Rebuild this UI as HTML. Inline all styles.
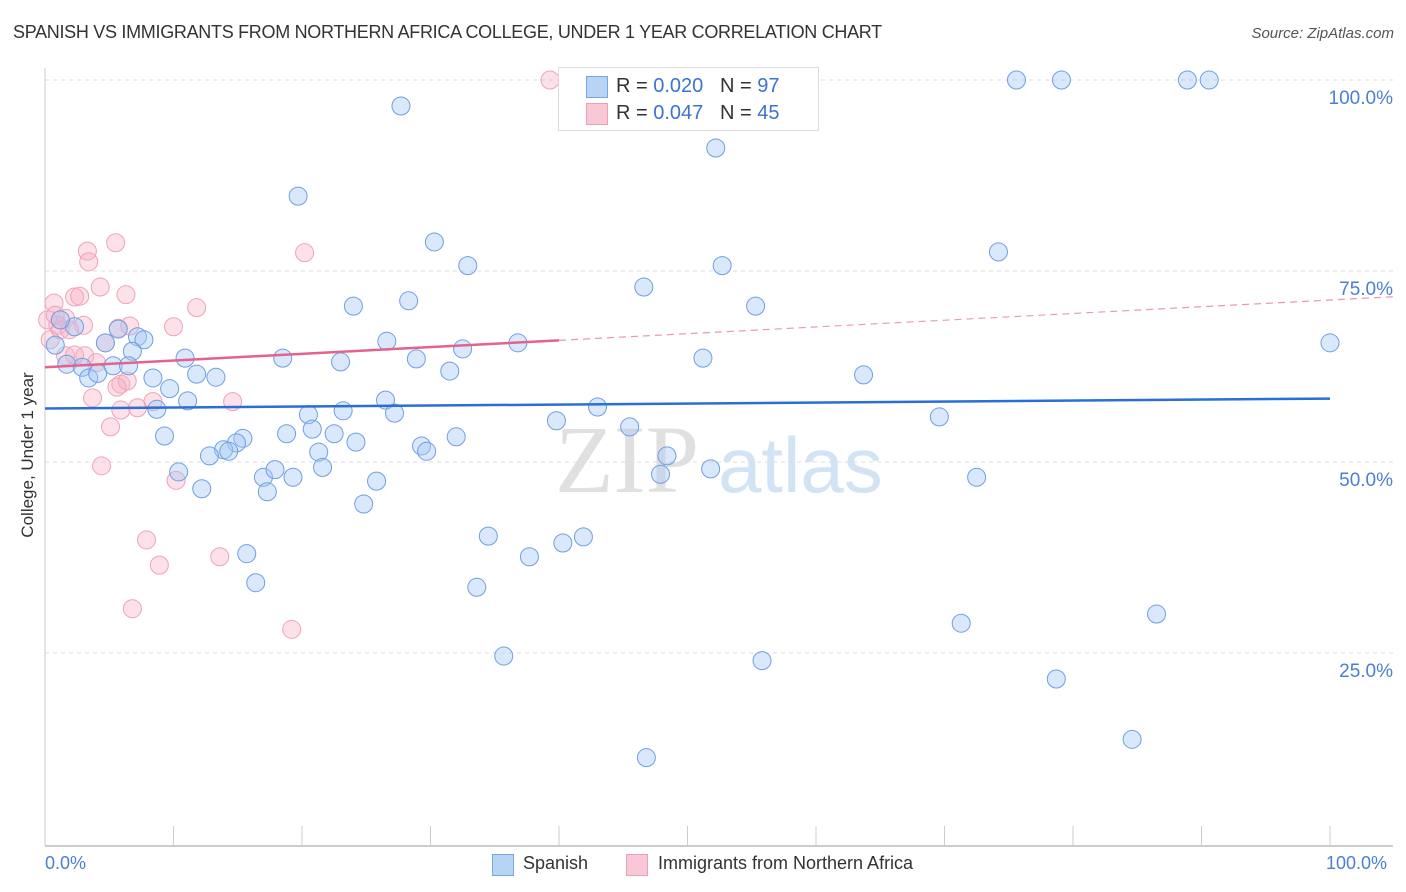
<!DOCTYPE html>
<html><head><meta charset="utf-8">
<style>
body{margin:0;background:#fff;font-family:"Liberation Sans",sans-serif;}
#wrap{position:relative;width:1406px;height:892px;overflow:hidden;}
.t{position:absolute;white-space:nowrap;}
</style></head>
<body>
<div id="wrap">
<div class="t" style="left:13px;top:22px;font-size:18px;color:#333;letter-spacing:-0.3px;">SPANISH VS IMMIGRANTS FROM NORTHERN AFRICA COLLEGE, UNDER 1 YEAR CORRELATION CHART</div>
<div class="t" style="right:12px;top:25px;font-size:15px;color:#555;font-style:italic;">Source: ZipAtlas.com</div>
<div class="t" style="left:28px;top:455px;font-size:17px;color:#333;transform:translate(-50%,-50%) rotate(-90deg);">College, Under 1 year</div>
<svg id="svg" width="1406" height="892" style="position:absolute;left:0;top:0">
<text x="555" y="492" font-size="96" font-family="Liberation Serif,serif" fill="#e0e0e0">ZIP</text>
<text x="718" y="492" font-size="78" font-family="Liberation Sans,sans-serif" fill="#d3e3f6">atlas</text>
</svg>
<div style="position:absolute;left:558px;top:67px;width:259px;height:62px;border:1px solid #ddd;background:#fff;">
<div style="position:absolute;left:27px;top:8px;width:20px;height:20px;background:#b8d4f5;border:1px solid #7aa6e0;"></div>
<div class="t" style="left:57px;top:7px;font-size:20px;color:#333;">R = <span style="color:#3b73d1">0.020</span>&nbsp;&nbsp;&nbsp;N = <span style="color:#3b73d1">97</span></div>
<div style="position:absolute;left:27px;top:35px;width:20px;height:20px;background:#f9c8d6;border:1px solid #eba0b6;"></div>
<div class="t" style="left:57px;top:34px;font-size:20px;color:#333;">R = <span style="color:#3b73d1">0.047</span>&nbsp;&nbsp;&nbsp;N = <span style="color:#3b73d1">45</span></div>
</div>
<div class="t" style="left:45px;top:853px;font-size:18px;color:#4a7fd6;">0.0%</div>
<div class="t" style="left:1326px;top:853px;font-size:18px;color:#4a7fd6;">100.0%</div>
<div style="position:absolute;left:492px;top:854px;width:20px;height:20px;background:#b8d4f5;border:1px solid #7aa6e0;"></div>
<div class="t" style="left:523px;top:853px;font-size:18px;color:#333;">Spanish</div>
<div style="position:absolute;left:626px;top:854px;width:20px;height:20px;background:#f9c8d6;border:1px solid #eba0b6;"></div>
<div class="t" style="left:658px;top:853px;font-size:18px;color:#333;">Immigrants from Northern Africa</div>
</div>
<script>
const yTicks=[100,75,50,25];
const yTickLabels=["100.0%","75.0%","50.0%","25.0%"];
const xTicks=[0,10,20,30,40,50,60,70,80,90,100];
const spanishX=[27.7,19.7,52.2,75.6,79.1,88.9,90.6,30.3,32.9,24.0,28.3,46.6,52.7,55.3,74.2,100,26.6,28.9,32.5,36.8,31.5,51.2,63.7,23.0,18.5,10.9,13.3,11.8,8.4,9.7,11.1,8.7,7.2,7.7,6.8,4.7,5.7,2.3,1.2,1.7,2.9,3.4,4.1,5.3,6.5,26.5,27.2,23.2,20.5,20.8,22.5,24.2,18.8,15.4,14.9,13.9,14.3,12.8,9.3,10.4,12.2,17.0,17.3,17.9,19.3,21.3,21.6,25.8,24.8,29.3,29.7,32.0,39.8,43.0,45.5,48.4,47.9,51.8,69.6,72.5,34.5,37.7,40.3,41.9,15.7,16.4,33.6,35.7,55.8,71.3,86.5,78.7,84.6,46.8,0.8];
const spanishY=[96.6,84.8,91.1,100,100,100,100,78.8,75.7,70.4,71.1,72.9,75.7,70.4,77.5,65.6,65.8,63.5,64.8,65.6,61.9,63.6,61.4,63.1,63.6,63.6,61.1,61.5,61.0,59.6,58.0,56.9,66.4,66.0,64.5,65.6,67.4,67.7,68.6,62.8,62.4,61.0,61.6,62.6,62.6,58.1,56.4,56.7,56.2,54.3,53.7,52.6,53.7,53.1,52.5,51.6,51.4,50.8,53.4,48.7,46.5,48.0,46.1,49.0,48.0,51.3,49.3,47.5,44.5,52.1,51.4,53.3,55.4,57.2,54.6,50.8,48.4,49.1,55.9,48.0,40.3,37.6,39.4,40.2,38.0,34.2,33.6,24.6,24.0,28.9,30.1,21.6,13.7,11.3,65.3];
const immX=[39.3,5.5,3.3,3.4,20.2,4.3,6.3,2.3,2.7,0.7,11.8,1.6,1.0,3.0,5.7,6.6,10.0,4.7,1.6,2.3,3.1,4.0,5.9,6.4,5.6,3.7,8.4,14.6,5.9,7.2,5.1,4.4,10.2,7.9,8.9,13.6,6.8,19.2,0.4,1.2,0.2,1.9,0.8];
const immY=[100,78.7,77.6,76.2,77.4,72.9,71.9,71.6,71.7,70.8,70.2,68.8,67.9,67.9,67.5,67.8,67.7,65.6,63.9,64.0,63.9,63.0,60.2,60.6,59.8,58.4,57.9,57.9,56.8,57.1,54.6,49.5,47.6,39.8,36.5,37.6,30.8,28.1,66.0,67.3,68.6,67.3,69.2];
const spanishTrend=[57.0,58.3];
const immTrend=[62.4,71.2];
const immSolidEnd=40;

const X0=45,X1=1330,Y100=80,Y0=844;
const sx=v=>X0+(X1-X0)*v/100;
const sy=v=>Y0-(Y0-Y100)*v/100;
const svg=document.getElementById('svg');
const NS='http://www.w3.org/2000/svg';
function mk(t,a){const e=document.createElementNS(NS,t);for(const k in a)e.setAttribute(k,a[k]);svg.appendChild(e);return e;}

yTicks.forEach((v,i)=>{
  const g=mk('line',{x1:X0,x2:1393,y1:sy(v),y2:sy(v),stroke:'#ddd','stroke-dasharray':'4,4','stroke-width':1});
  
  
  const t=mk('text',{x:1393,y:sy(v)+24,'text-anchor':'end','font-size':19,fill:'#4a7fd6','font-family':'Liberation Sans,sans-serif'});
  t.textContent=yTickLabels[i];
  
  
});
const ya=mk('line',{x1:X0,x2:X0,y1:68,y2:846,stroke:'#ccc','stroke-width':1});


const xa=mk('line',{x1:X0,x2:1393,y1:846,y2:846,stroke:'#bbb','stroke-width':1.5});


xTicks.forEach(v=>{
  const l=mk('line',{x1:sx(v),x2:sx(v),y1:826,y2:846,stroke:'#ccc','stroke-width':1});
  
  
});

function dots(xs,ys,fill,stroke,name){
  xs.forEach((v,i)=>{
    const c=mk('circle',{cx:sx(v),cy:sy(ys[i]),r:9,fill:fill,stroke:stroke,'stroke-width':1});
    
    
  });
}
dots(immX,immY,'rgba(246,175,196,0.38)','#f0a2ba','immigrants-point');
dots(spanishX,spanishY,'rgba(165,200,242,0.42)','#6f9fe2','spanish-point');

const bl=mk('line',{x1:sx(0),y1:sy(spanishTrend[0]),x2:sx(100),y2:sy(spanishTrend[1]),stroke:'#2a6fd6','stroke-width':2.5});


const iy=x=>immTrend[0]+(immTrend[1]-immTrend[0])*x/100;
const pl=mk('line',{x1:sx(0),y1:sy(iy(0)),x2:sx(immSolidEnd),y2:sy(iy(immSolidEnd)),stroke:'#e4628c','stroke-width':2.5});


const xe=(1393-X0)/(X1-X0)*100;
const pd=mk('line',{x1:sx(immSolidEnd),y1:sy(iy(immSolidEnd)),x2:1393,y2:sy(iy(xe)),stroke:'#e89ab2','stroke-width':1.2,'stroke-dasharray':'7,5'});


</script>
</body></html>
